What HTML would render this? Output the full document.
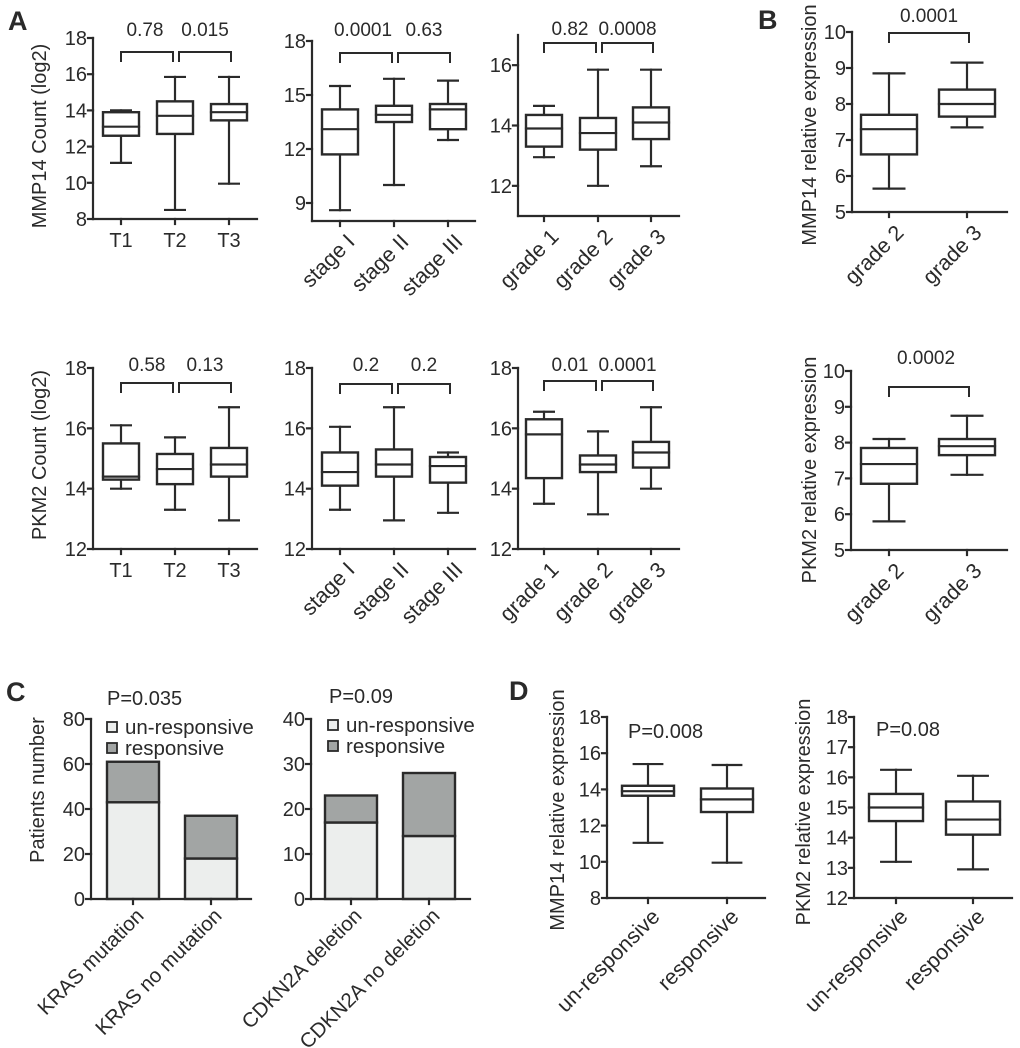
<!DOCTYPE html>
<html><head><meta charset="utf-8"><style>
html,body{margin:0;padding:0;background:#fff;}
svg{display:block;font-family:"Liberation Sans",Arial,sans-serif;}
</style></head><body>
<svg id="fig" width="1020" height="1048" viewBox="0 0 1020 1048" xmlns="http://www.w3.org/2000/svg">
<rect width="1020" height="1048" fill="#fff"/>
<text x="8" y="30" font-size="27" font-weight="bold" fill="#2a2a2a">A</text>
<text x="758" y="29" font-size="27" font-weight="bold" fill="#2a2a2a">B</text>
<text x="6" y="701" font-size="27" font-weight="bold" fill="#2a2a2a">C</text>
<text x="509" y="700" font-size="27" font-weight="bold" fill="#2a2a2a">D</text>
</svg>
<script>
// ---- data ----
const tCats=['T1','T2','T3'];
const stageCats=['stage I','stage II','stage III'];
const gradeCats=['grade 1','grade 2','grade 3'];
const grade23Cats=['grade 2','grade 3'];
const respCats=['un-responsive','responsive'];
// box stats: [min, q1, median, q3, max]
const mmpT=[[11.1,12.6,13.1,13.9,14.0],[8.5,12.7,13.7,14.5,15.85],[9.95,13.45,13.9,14.35,15.85]];
const mmpStage=[[8.6,11.7,13.1,14.2,15.5],[10.0,13.5,13.9,14.4,15.9],[12.5,13.1,14.2,14.5,15.8]];
const mmpGrade=[[12.95,13.3,13.9,14.35,14.65],[12.0,13.2,13.75,14.25,15.85],[12.65,13.55,14.1,14.6,15.85]];
const mmpB=[[5.65,6.6,7.3,7.7,8.85],[7.35,7.65,8.0,8.4,9.15]];
const pkmT=[[14.0,14.3,14.4,15.5,16.1],[13.3,14.15,14.65,15.15,15.7],[12.95,14.4,14.8,15.35,16.7]];
const pkmStage=[[13.3,14.1,14.55,15.2,16.05],[12.95,14.4,14.8,15.3,16.7],[13.2,14.2,14.75,15.05,15.2]];
const pkmGrade=[[13.5,14.35,15.8,16.3,16.55],[13.15,14.55,14.8,15.1,15.9],[14.0,14.7,15.2,15.55,16.7]];
const pkmB=[[5.8,6.85,7.4,7.85,8.1],[7.1,7.65,7.9,8.1,8.75]];
const mmpResp=[[11.05,13.65,13.9,14.2,15.4],[9.95,12.75,13.45,14.05,15.35]];
const pkmResp=[[13.2,14.55,15.0,15.45,16.25],[12.95,14.1,14.6,15.2,16.05]];
const krasCats=['KRAS mutation','KRAS no mutation'];
const krasUnresp=[43,18];
const krasResp=[18,19];
const cdknCats=['CDKN2A deletion','CDKN2A no deletion'];
const cdknUnresp=[17,14];
const cdknResp=[6,14];
const ticksA18=[8,10,12,14,16,18];
const ticksStage=[9,12,15,18];
const ticksGrade=[12,14,16];
const ticksB=[5,6,7,8,9,10];
const ticksPkm=[12,14,16,18];
const ticksD2=[12,13,14,15,16,17,18];
const ticksK=[0,20,40,60,80];
const ticksC=[0,10,20,30,40];

const NS='http://www.w3.org/2000/svg';
const svg=document.getElementById('fig');
const C='#2a2a2a';
function mk(tag,attrs,parent,name){
  const e=document.createElementNS(NS,tag);
  for(const k in attrs)e.setAttribute(k,attrs[k]);
  
  
  (parent||svg).appendChild(e);return e;
}
function line(g,x1,y1,x2,y2,name){return mk('line',{x1,y1,x2,y2,stroke:C,'stroke-width':2.2,'stroke-linecap':'square'},g,name);}
function txt(g,x,y,s,attrs,name){const t=mk('text',Object.assign({x,y,'font-size':19,fill:C},attrs||{}),g,name);t.textContent=s;return t;}

function axes(g,o,ys){
  line(g,o.x0,o.yb,o.x0,o.yt,'y-axis');
  line(g,o.x0,o.yb,o.xEnd,o.yb,'x-axis');
  o.ticks.forEach(v=>{
    const y=ys(v);
    line(g,o.x0-5,y,o.x0,y,'y-tick');
    txt(g,o.x0-6,y+7,String(v),{'text-anchor':'end','font-size':20},'y-tick-label');
  });
  o.centers.forEach((c,i)=>{
    line(g,c,o.yb,c,o.yb+5,'x-tick');
    if(o.rotate){
      const x=c+(o.lox||16),y=o.yb+(o.loy||22);
      txt(g,x,y,o.cats[i],{'text-anchor':'end','font-size':o.fs||21.5,transform:`rotate(-45 ${x} ${y})`},'x-tick-label');
    } else txt(g,c,o.yb+28,o.cats[i],{'text-anchor':'middle','font-size':20},'x-tick-label');
  });
  if(o.title){
    txt(g,o.titleX,o.titleY,o.title,{'text-anchor':'middle','font-size':20,transform:`rotate(-90 ${o.titleX} ${o.titleY})`},'y-axis-title');
  }
}
function boxPanel(o,name){
  const g=mk('g',{},svg,name);
  const ys=v=>o.yb-(v-o.vmin)/(o.vmax-o.vmin)*(o.yb-o.yt);
  axes(g,o,ys);
  o.stats.forEach((s,i)=>{
    const c=o.centers[i],hw=o.hw,cw=hw*0.55;
    const bg=mk('g',{},g,'box-'+o.cats[i].replace(/\s+/g,'-').toLowerCase());
    line(bg,c,ys(s[0]),c,ys(s[1]),'lower-whisker');
    line(bg,c,ys(s[3]),c,ys(s[4]),'upper-whisker');
    line(bg,c-cw,ys(s[0]),c+cw,ys(s[0]),'min-cap');
    line(bg,c-cw,ys(s[4]),c+cw,ys(s[4]),'max-cap');
    mk('rect',{x:c-hw,y:ys(s[3]),width:2*hw,height:ys(s[1])-ys(s[3]),fill:'#fff',stroke:C,'stroke-width':2.4},bg,'box-body');
    line(bg,c-hw,ys(s[2]),c+hw,ys(s[2]),'median-line');
  });
  (o.brackets||[]).forEach(b=>{
    const n=o.centers.length;
    const x1=o.centers[b[0]]+(b[0]===0?0:4), x2=o.centers[b[1]]+(b[1]===n-1?2:-2);
    const bg=mk('g',{},g,'significance-bracket');
    const y=o.by;
    mk('polyline',{points:`${x1},${y+10} ${x1},${y} ${x2},${y} ${x2},${y+10}`,fill:'none',stroke:C,'stroke-width':2},bg,'bracket-line');
    txt(bg,(x1+x2)/2+(b[3]||0),o.ly,b[2],{'text-anchor':'middle'},'p-value-label');
  });
  if(o.ptext) txt(g,o.ptext[0],o.ptext[1],o.ptext[2],{'font-size':20},'p-value-label');
}
function barPanel(o,name){
  const g=mk('g',{},svg,name);
  const ys=v=>o.yb-(v-o.vmin)/(o.vmax-o.vmin)*(o.yb-o.yt);
  o.rotate=true;
  o.fs=20.5;
  o.lox=12; o.loy=18;
  o.unresp.forEach((u,i)=>{
    const c=o.centers[i],hw=o.hw;
    const bg=mk('g',{},g,'bar-'+o.cats[i].replace(/\s+/g,'-').toLowerCase());
    mk('rect',{x:c-hw,y:ys(u),width:2*hw,height:ys(0)-ys(u),fill:'#eceeed',stroke:C,'stroke-width':2.4},bg,'unresponsive-segment');
    mk('rect',{x:c-hw,y:ys(u+o.resp[i]),width:2*hw,height:ys(u)-ys(u+o.resp[i]),fill:'#a2a5a4',stroke:C,'stroke-width':2.4},bg,'responsive-segment');
  });
  axes(g,o,ys);
  const lg=mk('g',{},g,'legend');
  mk('rect',{x:o.lx,y:o.ly,width:10,height:10,fill:'#eceeed',stroke:C,'stroke-width':1.8},lg,'legend-swatch-unresponsive');
  txt(lg,o.lx+18,o.ly+12,'un-responsive',{'font-size':20.5},'legend-entry');
  mk('rect',{x:o.lx,y:o.ly+21,width:10,height:10,fill:'#a2a5a4',stroke:C,'stroke-width':1.8},lg,'legend-swatch-responsive');
  txt(lg,o.lx+18,o.ly+33,'responsive',{'font-size':20.5},'legend-entry');
  txt(g,o.ptext[0],o.ptext[1],o.ptext[2],{'font-size':20},'p-value-label');
}

boxPanel({x0:93,yb:219,yt:38,vmin:8,vmax:18,ticks:ticksA18,xEnd:257,centers:[121,175,229],hw:18,cats:tCats,stats:mmpT,
  brackets:[[0,1,'0.78',-2],[1,2,'0.015',0]],by:52,ly:36,title:'MMP14 Count (log2)',titleX:46,titleY:136},'mmp14-t-stage-plot');
boxPanel({x0:312,yb:221,yt:41,vmin:8,vmax:18,ticks:ticksStage,xEnd:475,centers:[340,394,448],hw:18,cats:stageCats,stats:mmpStage,rotate:true,
  brackets:[[0,1,'0.0001',-3],[1,2,'0.63',0]],by:53,ly:36},'mmp14-stage-plot');
boxPanel({x0:518,yb:216,yt:35,vmin:11,vmax:17,ticks:ticksGrade,xEnd:679,centers:[544,598,651],hw:18,cats:gradeCats,stats:mmpGrade,rotate:true,
  brackets:[[0,1,'0.82',0],[1,2,'0.0008',0]],by:43,ly:35},'mmp14-grade-plot');
boxPanel({x0:852,yb:212,yt:32,vmin:5,vmax:10,ticks:ticksB,xEnd:1007,centers:[889,967],hw:28,cats:grade23Cats,stats:mmpB,rotate:true,
  brackets:[[0,1,'0.0001',0]],by:33,ly:22,title:'MMP14 relative expression',titleX:816,titleY:125},'mmp14-relative-expression-plot');

boxPanel({x0:93,yb:549,yt:368,vmin:12,vmax:18,ticks:ticksPkm,xEnd:257,centers:[121,175,229],hw:18,cats:tCats,stats:pkmT,
  brackets:[[0,1,'0.58',0],[1,2,'0.13',0]],by:383,ly:371,title:'PKM2 Count (log2)',titleX:46,titleY:455},'pkm2-t-stage-plot');
boxPanel({x0:312,yb:549,yt:368,vmin:12,vmax:18,ticks:ticksPkm,xEnd:475,centers:[340,394,448],hw:18,cats:stageCats,stats:pkmStage,rotate:true,
  brackets:[[0,1,'0.2',0],[1,2,'0.2',0]],by:384,ly:371},'pkm2-stage-plot');
boxPanel({x0:518,yb:549,yt:368,vmin:12,vmax:18,ticks:ticksPkm,xEnd:679,centers:[544,598,651],hw:18,cats:gradeCats,stats:pkmGrade,rotate:true,
  brackets:[[0,1,'0.01',0],[1,2,'0.0001',0]],by:381,ly:371},'pkm2-grade-plot');
boxPanel({x0:851,yb:550,yt:371,vmin:5,vmax:10,ticks:ticksB,xEnd:1007,centers:[889,967],hw:28,cats:grade23Cats,stats:pkmB,rotate:true,
  brackets:[[0,1,'0.0002',-3]],by:387,ly:364,title:'PKM2 relative expression',titleX:816,titleY:470},'pkm2-relative-expression-plot');

barPanel({x0:91,yb:899,yt:719,vmin:0,vmax:80,ticks:ticksK,xEnd:251,centers:[133,211],hw:26,cats:krasCats,unresp:krasUnresp,resp:krasResp,
  lx:107,ly:722,ptext:[107,705,'P=0.035'],title:'Patients number',titleX:44,titleY:790},'kras-bar-chart');
barPanel({x0:311,yb:899,yt:719,vmin:0,vmax:40,ticks:ticksC,xEnd:470,centers:[351,429],hw:26,cats:cdknCats,unresp:cdknUnresp,resp:cdknResp,
  lx:328,ly:720,ptext:[329,703,'P=0.09']},'cdkn2a-bar-chart');

boxPanel({x0:607,yb:898,yt:717,vmin:8,vmax:18,ticks:ticksA18,xEnd:765,centers:[648,727],hw:26,cats:respCats,stats:mmpResp,rotate:true,lox:13,loy:20,
  ptext:[628,738,'P=0.008'],title:'MMP14 relative expression',titleX:564,titleY:810},'mmp14-response-plot');
boxPanel({x0:854,yb:898,yt:717,vmin:12,vmax:18,ticks:ticksD2,xEnd:1012,centers:[896,973],hw:27,cats:respCats,stats:pkmResp,rotate:true,lox:13,loy:20,
  ptext:[876,736,'P=0.08'],title:'PKM2 relative expression',titleX:810,titleY:812},'pkm2-response-plot');
</script>
</body></html>
